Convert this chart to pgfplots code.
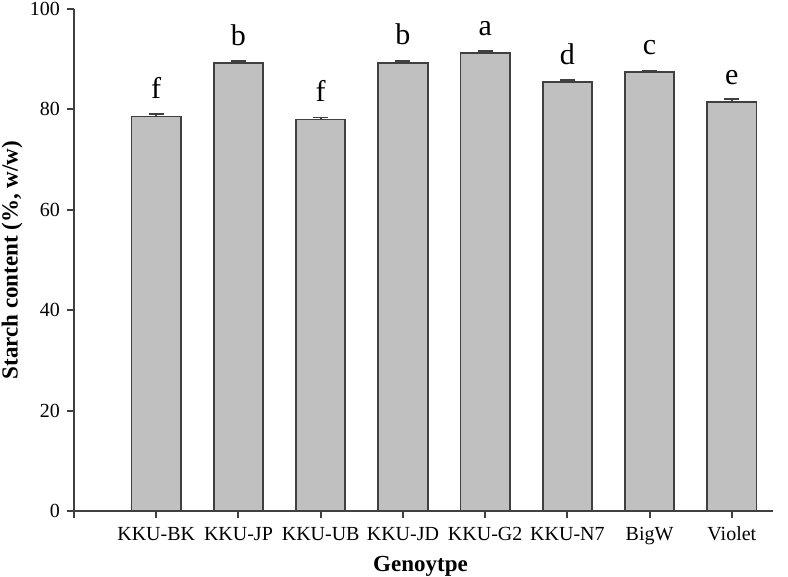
\documentclass[border=0pt]{standalone}
\usepackage{pgfplots}
\pgfplotsset{compat=1.18}
\usepackage{fontspec}
\setmainfont{Liberation Serif}
\definecolor{barfill}{RGB}{192,192,192}
\definecolor{edge}{RGB}{64,64,64}
\begin{document}
\begin{tikzpicture}
\useasboundingbox (-37pt,-33pt) rectangle (357pt,255.5pt);
\begin{axis}[
  at={(0,0)}, anchor=south west,
  scale only axis, width=349.5pt, height=251pt,
  xmin=0, xmax=8.5, ymin=0, ymax=100,
  axis lines=left,
  axis line style={edge, line width=1pt, -},
  xtick={0,1,...,8},
  xticklabels={,KKU-BK,KKU-JP,KKU-UB,KKU-JD,KKU-G2,KKU-N7,BigW,Violet},
  ytick={0,20,...,100},
  tick align=outside,
  major tick length=3.5pt,
  tick style={edge, line width=1pt},
  /pgf/number format/assume math mode=true,
  ticklabel style={font=\fontsize{10}{12}\selectfont},
  xticklabel style={anchor=base, yshift=-11.5pt},
  xlabel={Genoytpe},
  ylabel={Starch content (\%, w/w)},
  label style={font=\fontsize{11.5}{13}\selectfont\bfseries},
  xlabel style={at={(axis description cs:0.5,0)}, anchor=base, yshift=-30.5pt, xshift=-1.5pt},
  ylabel style={at={([xshift=-31pt]axis description cs:0,0.5)}, anchor=center},
  clip=false,
]
\addplot[ybar, bar width=0.6, fill=barfill, draw=edge, line width=0.9pt,
  error bars/.cd, y dir=plus, y explicit,
  error bar style={edge, line width=0.9pt},
  error mark options={rotate=90, mark size=3.75pt, edge, line width=0.9pt},
] table[x=x, y=y, y error=e] {
x y e
1 78.6 0.5
2 89.2 0.5
3 78.0 0.4
4 89.3 0.4
5 91.2 0.5
6 85.4 0.4
7 87.4 0.2
8 81.4 0.6
};
\addplot[only marks, mark=none,
  nodes near coords, point meta=explicit symbolic,
  nodes near coords style={anchor=base, yshift=9pt, font=\fontsize{15}{17}\selectfont, text=black},
] table[x=x, y=y, meta=l] {
x y l
1 78.6 f
2 89.2 b
3 78.0 f
4 89.3 b
5 91.2 a
6 85.4 d
7 87.4 c
8 81.4 e
};
\end{axis}
\end{tikzpicture}
\end{document}
